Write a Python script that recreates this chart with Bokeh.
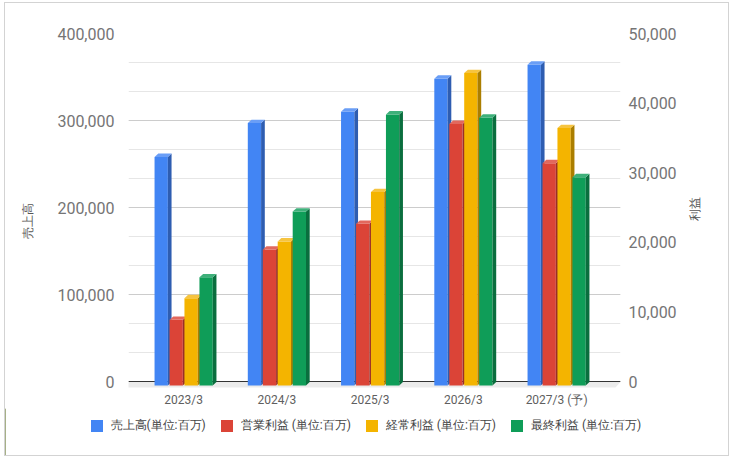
import math
from bokeh.plotting import figure
from bokeh.layouts import column
from bokeh.models import (Range1d, LinearAxis, FixedTicker, NumeralTickFormatter,
                          Legend, LegendItem, Span)
from bokeh.embed import file_html
from bokeh.resources import INLINE

# ---------------- data ----------------
categories = ["2023/3", "2024/3", "2025/3", "2026/3", "2027/3 (予)"]
sales = [262000, 301000, 314000, 352000, 368000]          # left axis
operating = [9350, 19450, 23150, 37500, 31850]             # right axis
ordinary = [12450, 20600, 27700, 44800, 36900]             # right axis
net = [15450, 24900, 38850, 38400, 29850]                  # right axis
series_names = ["売上高(単位:百万)", "営業利益 (単位:百万)",
                "経常利益 (単位:百万)", "最終利益 (単位:百万)"]
left_ticks = [0, 100000, 200000, 300000, 400000]
right_ticks = [0, 10000, 20000, 30000, 40000, 50000]

# ---------------- styling / layout ----------------
front_colors = ["#4285f4", "#db4437", "#f4b400", "#0f9d58"]
side_colors = ["#2e5db1", "#9a2f27", "#ab7e00", "#0a6e3e"]
top_colors = ["#6a9ef6", "#e2685d", "#f6c440", "#3eb07a"]

W = 723
LEFT, TOP = 123, 30
FRAME_W = 492
PLOT_PX = 348          # pixels from zero line to top tick
BELOW_ZERO_PX = 27     # frame extends below the zero line (room for x labels)
FRAME_H = PLOT_PX + BELOW_ZERO_PX
H_CHART = TOP + FRAME_H
H_LEG = 452 - H_CHART
CAT_PX = 93.25
x_start = -55.1 / CAT_PX
x_end = x_start + FRAME_W / CAT_PX
kl = left_ticks[-1] / PLOT_PX
kr = right_ticks[-1] / PLOT_PX
L_RANGE = (-BELOW_ZERO_PX * kl, left_ticks[-1])
R_RANGE = (-BELOW_ZERO_PX * kr, right_ticks[-1])
kx = 1.0 / CAT_PX

offsets_px = [-22.4, -7.4, 7.5, 22.5]
front_w_px = 13.3
dx_px, dy_px = 3.7, 3.4
bottom_px = 4.0
FONT = "Roboto"

p = figure(width=W, height=H_CHART, output_backend="svg", toolbar_location=None,
           x_range=Range1d(x_start, x_end), y_range=Range1d(*L_RANGE),
           frame_width=FRAME_W, frame_height=FRAME_H,
           min_border_left=LEFT, min_border_top=TOP,
           min_border_right=W - LEFT - FRAME_W, min_border_bottom=0,
           background_fill_color="white", border_fill_color="white")
p.frame_align = False
p.outline_line_color = None
p.extra_y_ranges = {"profit": Range1d(*R_RANGE)}

# grid
minor = [left_ticks[-1] * i / 12 for i in range(13)]
p.yaxis[0].ticker = FixedTicker(ticks=left_ticks, minor_ticks=minor)
p.ygrid.grid_line_color = "#cccccc"
p.ygrid.minor_grid_line_color = "#e6e6e6"
p.xgrid.grid_line_color = None

# floor
floor_x = [x_start, x_end, x_end - 5 * kx, x_start - 5 * kx]
floor_y = [-0.5 * kl, -0.5 * kl, -6 * kl, -6 * kl]
p.patch(floor_x, floor_y, fill_color="#ebebeb", line_color=None, level="underlay")
p.add_layout(Span(location=0, dimension="width", line_color="#333333",
                  line_width=1, level="underlay"))

# bars
all_series = [sales, operating, ordinary, net]
for s, vals in enumerate(all_series):
    rng = "default" if s == 0 else "profit"
    ky = kl if s == 0 else kr
    xc = [i + offsets_px[s] * kx for i in range(len(categories))]
    w = front_w_px * kx
    dx, dy = dx_px * kx, dy_px * ky
    bot = -bottom_px * ky
    tops = [v - dy for v in vals]
    p.vbar(x=xc, width=w, bottom=bot, top=tops, fill_color=front_colors[s],
           line_color=None, y_range_name=rng)
    side_xs, side_ys, top_xs, top_ys = [], [], [], []
    for c, v in zip(xc, vals):
        xl, xr = c - w / 2, c + w / 2
        side_xs.append([xr, xr + dx, xr + dx, xr])
        side_ys.append([bot, bot + dy, v, v - dy])
        top_xs.append([xl, xr, xr + dx, xl + dx])
        top_ys.append([v - dy, v - dy, v, v])
    p.patches(side_xs, side_ys, fill_color=side_colors[s], line_color=None, y_range_name=rng)
    p.patches(top_xs, top_ys, fill_color=top_colors[s], line_color=None, y_range_name=rng)

# axes
xa = p.xaxis[0]
xa.fixed_location = 0
xa.ticker = FixedTicker(ticks=list(range(len(categories))))
xa.major_label_overrides = {i: c for i, c in enumerate(categories)}
xa.axis_line_color = None
xa.major_tick_line_color = None
xa.minor_tick_line_color = None
xa.major_label_text_font = FONT
xa.major_label_text_font_size = "12px"
xa.major_label_text_color = "#5f5f5f"
xa.major_label_standoff = 5

ya = p.yaxis[0]
ya.formatter = NumeralTickFormatter(format="0,0")
ya.axis_line_color = None
ya.major_tick_line_color = None
ya.minor_tick_line_color = None
ya.major_label_text_font = FONT
ya.major_label_text_font_size = "16px"
ya.major_label_text_color = "#757575"
ya.major_label_standoff = 8
ya.axis_label = "売上高"
ya.axis_label_text_font = FONT
ya.axis_label_text_font_size = "12px"
ya.axis_label_text_font_style = "normal"
ya.axis_label_text_color = "#555555"
ya.axis_label_standoff = 19

ra = LinearAxis(y_range_name="profit", ticker=FixedTicker(ticks=right_ticks),
                formatter=NumeralTickFormatter(format="0,0"))
ra.axis_line_color = None
ra.major_tick_line_color = None
ra.minor_tick_line_color = None
ra.major_label_text_font = FONT
ra.major_label_text_font_size = "16px"
ra.major_label_text_color = "#757575"
ra.major_label_standoff = 2
ra.axis_label = "利益"
ra.axis_label_text_font = FONT
ra.axis_label_text_font_size = "12px"
ra.axis_label_text_font_style = "normal"
ra.axis_label_text_color = "#555555"
ra.axis_label_standoff = 15
ra.axis_label_orientation = math.pi / 2
p.add_layout(ra, "right")

# legend strip (separate canvas below the chart so nothing is clipped)
lf = figure(width=W, height=H_LEG, output_backend="svg", toolbar_location=None,
            x_range=Range1d(0, 1), y_range=Range1d(0, 1),
            x_axis_type=None, y_axis_type=None,
            min_border_left=0, min_border_right=0, min_border_top=0, min_border_bottom=0,
            background_fill_color="white", border_fill_color="white")
lf.frame_align = False
lf.outline_line_color = None
lf.xgrid.grid_line_color = None
lf.ygrid.grid_line_color = None
legend_items = []
for s in range(len(series_names)):
    # legend-only renderer, its single point lies outside the visible range
    r = lf.vbar(x=[-10], width=0.1, top=[1], fill_color=front_colors[s], line_color=None)
    legend_items.append(LegendItem(label=series_names[s], renderers=[r]))
legend = Legend(items=legend_items, orientation="horizontal", location=(83.5, 21.5),
                glyph_width=15, glyph_height=15, label_height=15, label_standoff=7,
                spacing=13, padding=0, margin=0, border_line_color=None,
                background_fill_alpha=0, label_text_font=FONT,
                label_text_font_size="12px", label_text_color="#444444")
lf.add_layout(legend, "center")

layout = column(p, lf, spacing=0)
layout.margin = (2, 0, 0, 4)
layout.styles = {"border": "1px solid #d3d3d3"}

open("out.html", "w").write(file_html(layout, INLINE))
